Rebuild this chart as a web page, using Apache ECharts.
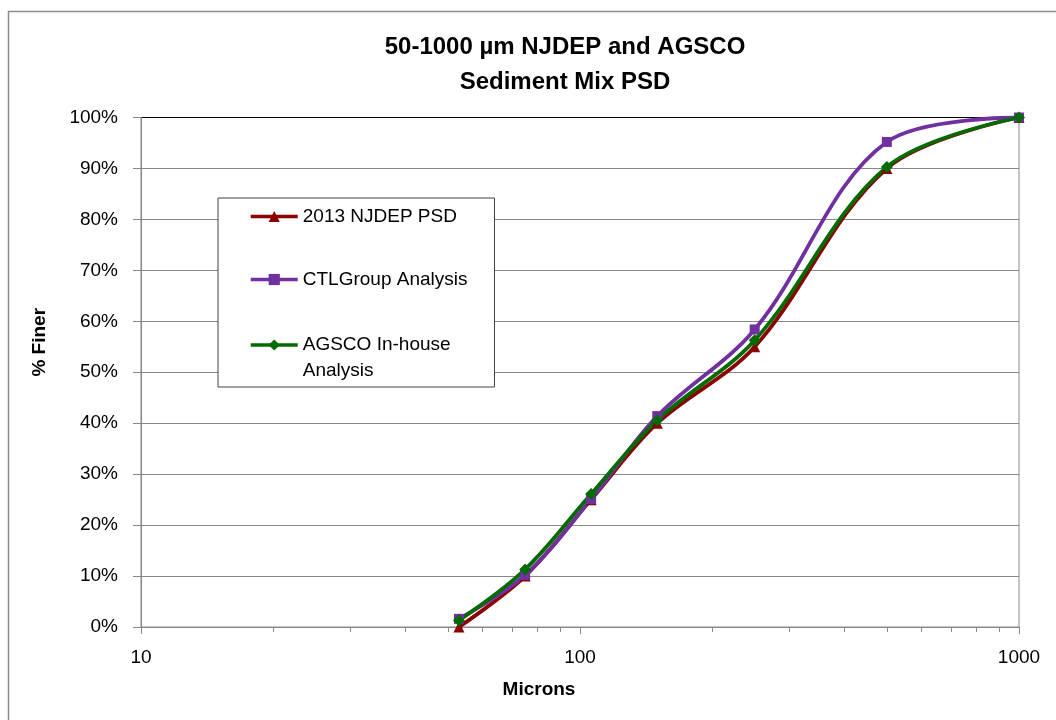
<!DOCTYPE html>
<html>
<head>
<meta charset="utf-8">
<script src="https://cdn.jsdelivr.net/npm/echarts@6/dist/echarts.min.js"></script>
<style>
html,body{margin:0;padding:0;background:#fff;}
#chart{width:1056px;height:720px;}
</style>
</head>
<body>
<div id="chart"></div>
<script>
// Data
var microns = [53, 75, 106, 150, 250, 500, 1000];
var njdep = [0, 10, 25, 40, 55, 90, 100];
var ctlGroup = [1.6, 10.2, 25.1, 41.4, 58.4, 95.2, 100];
var agsco = [1.3, 11.3, 26.1, 40.6, 56.3, 90.3, 100];
var seriesNames = ['2013 NJDEP PSD', 'CTLGroup Analysis', 'AGSCO In-house Analysis'];
var yTicks = [0, 10, 20, 30, 40, 50, 60, 70, 80, 90, 100];

var FONT = '"Liberation Sans", Arial, sans-serif';
function pairs(xs, ys) { return xs.map(function (x, i) { return [x, ys[i]]; }); }

var chart = echarts.init(document.getElementById('chart'));
var gridColors = yTicks.map(function (v, i) { return i === yTicks.length - 1 ? '#000000' : '#888888'; });

var legendCommon = {
  orient: 'vertical',
  itemWidth: 47, itemHeight: 14,
  lineStyle: { width: 3.5 },
  textStyle: { fontFamily: FONT, fontSize: 19, color: '#000', lineHeight: 19 }
};

var option = {
  backgroundColor: '#ffffff',
  animation: false,
  textStyle: { fontFamily: FONT },
  graphic: [{
    type: 'rect', left: 6, top: 9, silent: true,
    shape: { width: 1200, height: 900 },
    style: { fill: 'none', stroke: '#8c8c8c', lineWidth: 1.5 }
  }],
  title: {
    text: '50-1000 µm NJDEP and AGSCO\nSediment Mix PSD',
    left: 565, top: 30, textAlign: 'center',
    padding: 0,
    textStyle: { fontFamily: FONT, fontSize: 24, fontWeight: 'bold', color: '#000', lineHeight: 35 }
  },
  legend: [
    Object.assign({}, legendCommon, {
      left: 218, top: 198,
      padding: [9, 27, 98, 31],
      itemGap: 44,
      backgroundColor: '#ffffff',
      borderColor: '#404040', borderWidth: 1, borderRadius: 0,
      data: [seriesNames[0], seriesNames[1]]
    }),
    Object.assign({}, legendCommon, {
      left: 249, top: 306,
      padding: 0,
      textStyle: { fontFamily: FONT, fontSize: 19, color: '#000', lineHeight: 26 },
      formatter: function (name) { return '\nAGSCO In-house\nAnalysis'; },
      data: [seriesNames[2]]
    })
  ],
  grid: {
    left: 141, right: 37, top: 117.5, bottom: 93,
    show: true, borderColor: '#888888', borderWidth: 1, backgroundColor: 'transparent'
  },
  xAxis: {
    type: 'log', logBase: 10, min: 10, max: 1000,
    name: 'Microns', nameLocation: 'middle', nameGap: 53,
    nameTextStyle: { fontFamily: FONT, fontSize: 19, fontWeight: 'bold', color: '#000', padding: [0, 82, 0, 0] },
    axisLine: { show: true, lineStyle: { color: '#888888', width: 1 } },
    axisTick: { show: true, length: 7, lineStyle: { color: '#888888' } },
    minorTick: { show: true, splitNumber: 9, length: 5, lineStyle: { color: '#888888' } },
    axisLabel: { fontFamily: FONT, fontSize: 19, color: '#000', margin: 21,
      formatter: function (v) { return String(Math.round(v)); } },
    splitLine: { show: false }
  },
  yAxis: {
    type: 'value', min: 0, max: 100, interval: 10,
    name: '% Finer', nameLocation: 'middle', nameGap: 92,
    nameTextStyle: { fontFamily: FONT, fontSize: 19, fontWeight: 'bold', color: '#000', padding: [0, 0, 0, 60] },
    axisLine: { show: true, lineStyle: { color: '#888888', width: 1 } },
    axisTick: { show: true, length: 8, lineStyle: { color: '#888888' } },
    axisLabel: { fontFamily: FONT, fontSize: 19, color: '#000', margin: 23, formatter: '{value}%' },
    splitLine: { show: true, lineStyle: { color: gridColors, width: 1 } }
  },
  series: [
    {
      name: seriesNames[0], type: 'line', smooth: 0.35,
      data: pairs(microns, njdep),
      symbol: 'triangle', symbolSize: 11,
      lineStyle: { color: '#8b0000', width: 3.8 },
      itemStyle: { color: '#8b0000' }
    },
    {
      name: seriesNames[1], type: 'line', smooth: 0.35,
      data: pairs(microns, ctlGroup),
      symbol: 'rect', symbolSize: 10,
      lineStyle: { color: '#7030a0', width: 3.8 },
      itemStyle: { color: '#7030a0' }
    },
    {
      name: seriesNames[2], type: 'line', smooth: 0.35,
      data: pairs(microns, agsco),
      symbol: 'diamond', symbolSize: 12,
      lineStyle: { color: '#006b00', width: 3.8 },
      itemStyle: { color: '#006b00' }
    }
  ]
};
chart.setOption(option);
</script>
</body>
</html>
